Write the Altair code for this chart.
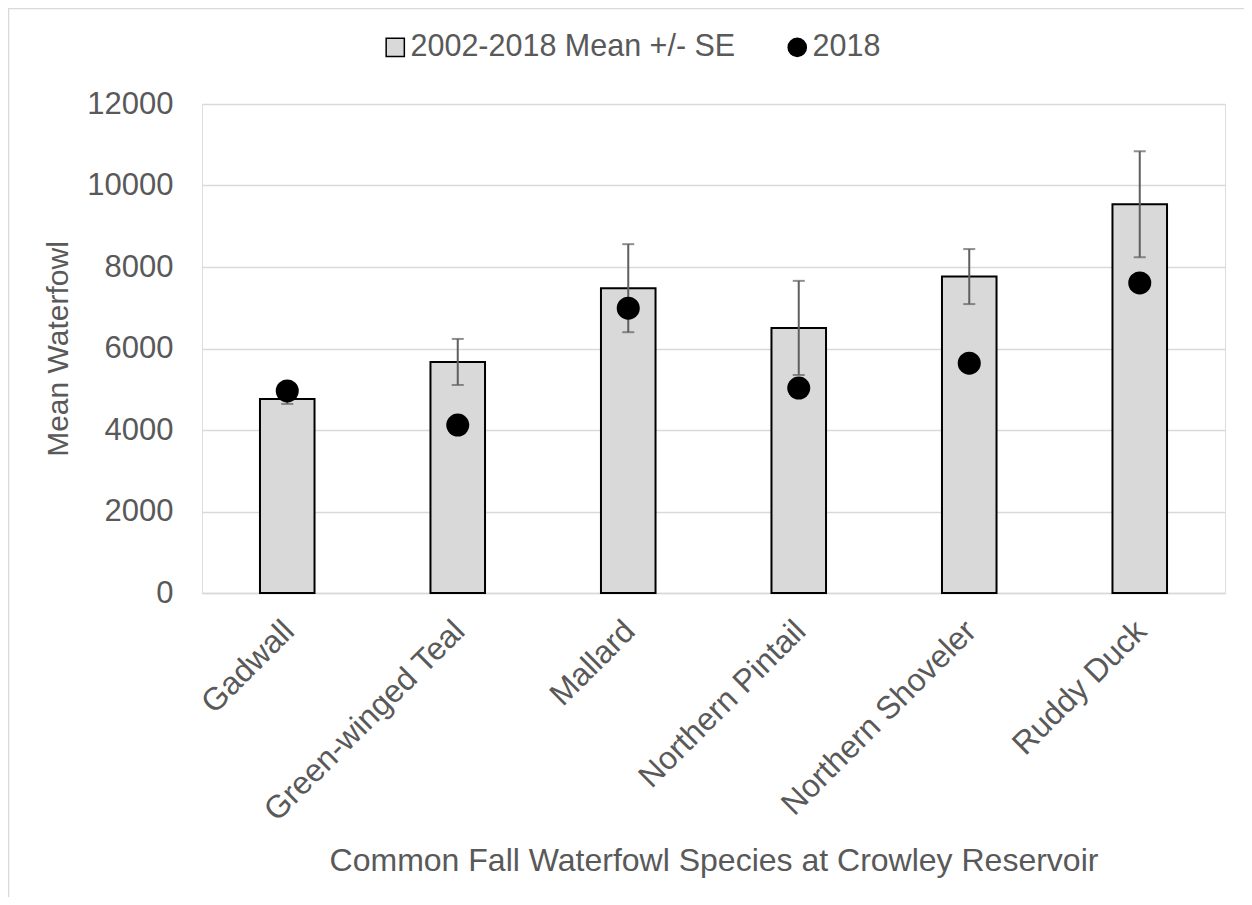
import altair as alt
import pandas as pd

species = ["Gadwall", "Green-winged Teal", "Mallard", "Northern Pintail",
           "Northern Shoveler", "Ruddy Duck"]
mean_2002_2018 = [4760, 5670, 7480, 6505, 7765, 9540]
se_2002_2018 = [120, 565, 1080, 1155, 675, 1300]
count_2018 = [4960, 4120, 6990, 5030, 5640, 7610]
y_ticks = [0, 2000, 4000, 6000, 8000, 10000, 12000]

S1 = "2002-2018 Mean +/- SE"
S2 = "2018"

df = pd.DataFrame({
    "species": species,
    "mean": mean_2002_2018,
    "se": se_2002_2018,
    "y2018": count_2018,
})

TXT = "#595959"
FONT = "Liberation Sans"

x_enc = alt.X("species:N", sort=species,
              scale=alt.Scale(paddingInner=0.68, paddingOuter=0.34),
              axis=alt.Axis(title="Common Fall Waterfowl Species at Crowley Reservoir",
                            labelAngle=-45, labelFontSize=32, labelColor=TXT,
                            labelPadding=22, labelOffset=-9, ticks=False, tickSize=0,
                            domainColor="#d9d9d9", domainWidth=1.5,
                            titleFontSize=32, titleColor=TXT, titleFontWeight="normal",
                            titlePadding=52, grid=False, labelLimit=400))

y_scale = alt.Scale(domain=[0, 12000], nice=False)
y_axis = alt.Axis(title="Mean Waterfowl", values=y_ticks, format="d", labelFontSize=31,
                  labelColor=TXT, domain=False, ticks=False, tickSize=0,
                  labelPadding=29, gridColor="#d9d9d9", gridWidth=1.5,
                  titleFontSize=30, titleColor=TXT, titleFontWeight="normal",
                  titlePadding=13)

fill_scale = alt.Scale(domain=[S1, S2], range=["#d9d9d9", "#000000"])
shape_scale = alt.Scale(domain=[S1, S2], range=["square", "circle"])
legend = alt.Legend(title=None, orient="none", direction="horizontal",
                    legendX=178, legendY=-72, labelFontSize=30.5, labelColor=TXT,
                    symbolSize=330, symbolStrokeColor="black", symbolStrokeWidth=1.5,
                    columnPadding=46, labelOffset=0, padding=0, labelLimit=500)

base = alt.Chart(df)

frame = alt.Chart(pd.DataFrame({"f": [0]})).mark_rect(
    fill=None, stroke="#d9d9d9", strokeWidth=1.5
).encode(
    x=alt.value(-193.5), x2=alt.value(1060),
    y=alt.value(-95.5), y2=alt.value(900),
)

bars = base.transform_calculate(series=f"'{S1}'").mark_bar(
    stroke="black", strokeWidth=2
).encode(
    x=x_enc,
    y=alt.Y("mean:Q", scale=y_scale, axis=y_axis),
    fill=alt.Fill("series:N", scale=fill_scale, legend=legend),
)

err = base.transform_calculate(lo="datum.mean - datum.se", hi="datum.mean + datum.se")

err_rule = err.mark_rule(color="#5f5f5f", strokeWidth=2).encode(
    x=alt.X("species:N", sort=species),
    y=alt.Y("lo:Q", scale=y_scale),
    y2="hi:Q",
)
cap_lo = err.mark_tick(color="#5f5f5f", thickness=2, size=12).encode(
    x=alt.X("species:N", sort=species),
    y=alt.Y("lo:Q", scale=y_scale),
)
cap_hi = err.mark_tick(color="#5f5f5f", thickness=2, size=12).encode(
    x=alt.X("species:N", sort=species),
    y=alt.Y("hi:Q", scale=y_scale),
)

points = base.transform_calculate(series=f"'{S2}'").mark_point(
    filled=True, size=529, opacity=1, stroke="black", strokeWidth=0
).encode(
    x=alt.X("species:N", sort=species),
    y=alt.Y("y2018:Q", scale=y_scale),
    fill=alt.Fill("series:N", scale=fill_scale, legend=legend),
    shape=alt.Shape("series:N", scale=shape_scale, legend=legend),
)

chart = alt.layer(bars, err_rule, cap_lo, cap_hi, points, frame).properties(
    width=1023, height=489,
    autosize=alt.AutoSizeParams(type="none"),
    padding={"left": 194, "top": 96, "right": 19, "bottom": 304},
).configure_view(stroke=None).configure(font=FONT)

chart.save("out.html", embed_options={"renderer": "svg", "actions": False})
